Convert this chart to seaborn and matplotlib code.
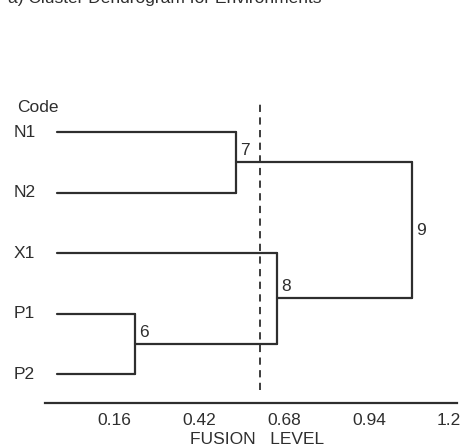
import matplotlib
matplotlib.use("Agg")
import matplotlib.pyplot as plt
import seaborn as sns
import pandas as pd

# ---- data ----
leaves = ["N1", "N2", "X1", "P1", "P2"]
leaf_level = 0.038
merge_ids = ["6", "7", "8", "9"]
merge_left = ["P1", "N1", "X1", "7"]
merge_right = ["P2", "N2", "6", "8"]
merge_heights = [0.276, 0.585, 0.710, 1.123]
cut_level = 0.658
xticks = [0.16, 0.42, 0.68, 0.94, 1.2]
xtick_labels = ["0.16", "0.42", "0.68", "0.94", "1.2"]
title = "a) Cluster Dendrogram for Environments"
xlabel = "FUSION   LEVEL"
code_label = "Code"

# ---- build dendrogram segments ----
pos = {name: (leaf_level, float(i)) for i, name in enumerate(leaves)}
rows = []
seg = 0
for mid, l, r, h in zip(merge_ids, merge_left, merge_right, merge_heights):
    (lx, ly), (rx, ry) = pos[l], pos[r]
    for (cx, cy) in [(lx, ly), (rx, ry)]:
        rows += [dict(x=cx, y=cy, seg=seg), dict(x=h, y=cy, seg=seg)]
        seg += 1
    rows += [dict(x=h, y=ly, seg=seg), dict(x=h, y=ry, seg=seg)]
    seg += 1
    pos[mid] = (h, (ly + ry) / 2.0)
df = pd.DataFrame(rows)

# ---- figure ----
sns.set_style("white")
plt.rcParams["font.family"] = ["Liberation Sans", "DejaVu Sans"]
W, H = 462, 447
fig = plt.figure(figsize=(W / 100, H / 100), dpi=100)
ax = fig.add_axes([45 / W, (H - 403) / H, 412 / W, 303 / H])

ink = "#2e2e2e"
sns.lineplot(data=df, x="x", y="y", units="seg", estimator=None, sort=False,
             color=ink, lw=1.6, ax=ax, legend=False)

ax.axvline(cut_level, ymin=0.043, ymax=0.99, color=ink, lw=1.3,
           ls=(0, (4, 3)))

ax.set_xlim(0.0, 1.261)
ax.set_ylim(4.479, -0.529)

fs = 12.5
# merge labels
for mid in merge_ids:
    h, ym = pos[mid]
    if mid == merge_ids[-1]:
        ax.annotate(mid, xy=(h, ym), xytext=(3, 0), textcoords="offset points",
                    ha="left", va="center", fontsize=fs, color=ink)
    else:
        ax.annotate(mid, xy=(h, ym), xytext=(3, 3), textcoords="offset points",
                    ha="left", va="bottom", fontsize=fs, color=ink)

# leaf labels
for i, name in enumerate(leaves):
    ax.annotate(name, xy=(14 / W, i), xycoords=("figure fraction", "data"),
                ha="left", va="center", fontsize=fs, color=ink,
                annotation_clip=False)
fig.text(17 / W, 1 - 108 / H, code_label, ha="left", va="center",
         fontsize=fs, color=ink)

# axes styling
sns.despine(ax=ax, left=True, top=True, right=True)
ax.spines["bottom"].set_color(ink)
ax.spines["bottom"].set_linewidth(1.6)
ax.set_yticks([])
ax.set_xticks(xticks)
ax.set_xticklabels(xtick_labels, ha="left")
ax.tick_params(axis="x", length=0, pad=7, labelsize=fs, labelcolor=ink)
ax.set_xlabel("")
ax.set_ylabel("")

fig.text(257 / W, 1 - 439 / H, xlabel, ha="center", va="center",
         fontsize=fs, color=ink)
fig.text(8 / W, 1 - 3 / H, title, ha="left", va="baseline",
         fontsize=12.5, color=ink)

fig.savefig("out.png", dpi=100)
